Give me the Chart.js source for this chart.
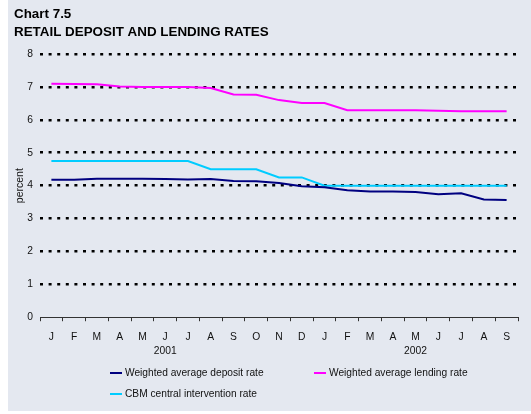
<!DOCTYPE html>
<html lang="en">
<head>
    <meta charset="UTF-8">
    <title>Chart 7.5 Retail deposit and lending rates</title>
    <script src="https://cdn.jsdelivr.net/npm/chart.js"></script>
    <style>
        body {
            margin: 0;
            background: #ffffff;
        }
        .wrap {
            position: relative;
            width: 531px;
            height: 414px;
        }
        .panel {
            position: absolute;
            left: 8px;
            top: 0;
            width: 523px;
            height: 411px;
            background: #e4e8f0;
        }
        canvas {
            position: absolute;
            left: 0;
            top: 0;
        }
    </style>
</head>
<body>

<div class="wrap">
    <div class="panel"></div>
    <canvas id="ratesChart" width="531" height="414"></canvas>
</div>

<script>
    // Months Jan 2001 - Sep 2002
    const months = ['J', 'F', 'M', 'A', 'M', 'J', 'J', 'A', 'S', 'O', 'N', 'D',
                    'J', 'F', 'M', 'A', 'M', 'J', 'J', 'A', 'S'];
    const years = { 5: '2001', 16: '2002' };

    const depositRate = [4.18, 4.18, 4.21, 4.21, 4.21, 4.20, 4.19, 4.20, 4.14, 4.13, 4.08,
                         3.98, 3.95, 3.86, 3.82, 3.82, 3.81, 3.74, 3.77, 3.58, 3.56];
    const lendingRate = [7.10, 7.09, 7.08, 7.01, 7.00, 7.00, 7.00, 6.97, 6.77, 6.76, 6.60,
                         6.51, 6.51, 6.29, 6.29, 6.29, 6.29, 6.28, 6.26, 6.26, 6.26];
    const cbmRate = [4.75, 4.75, 4.75, 4.75, 4.75, 4.75, 4.75, 4.50, 4.50, 4.50, 4.25,
                     4.25, 4.00, 4.00, 4.00, 4.00, 4.00, 4.00, 4.00, 4.00, 4.00];

    const fontFamily = "'Liberation Sans', Arial, sans-serif";

    // month letter with the year underneath where needed
    const labels = months.map((m, i) => years[i] ? [m, years[i]] : m);

    // legend laid out like the original (two columns, second row under the first)
    const legendSpots = [[110, 373], [314, 373], [110, 394]];
    const gridLegend = {
        id: 'gridLegend',
        afterDraw(chart) {
            const ctx = chart.ctx;
            ctx.save();
            ctx.font = '10.2px ' + fontFamily;
            ctx.textBaseline = 'middle';
            ctx.fillStyle = '#111';
            chart.data.datasets.forEach((ds, i) => {
                const [x, y] = legendSpots[i];
                ctx.strokeStyle = ds.borderColor;
                ctx.lineWidth = 2;
                ctx.beginPath();
                ctx.moveTo(x, y);
                ctx.lineTo(x + 12, y);
                ctx.stroke();
                ctx.fillText(ds.label, x + 15, y);
            });
            ctx.restore();
        }
    };

    const ctx = document.getElementById('ratesChart').getContext('2d');
    new Chart(ctx, {
        type: 'line',
        data: {
            labels: labels,
            datasets: [
                {
                    label: 'Weighted average deposit rate',
                    data: depositRate,
                    borderColor: '#000080',
                    borderWidth: 2,
                    pointRadius: 0
                },
                {
                    label: 'Weighted average lending rate',
                    data: lendingRate,
                    borderColor: '#ff00ff',
                    borderWidth: 2,
                    pointRadius: 0
                },
                {
                    label: 'CBM central intervention rate',
                    data: cbmRate,
                    borderColor: '#00ccff',
                    borderWidth: 2,
                    pointRadius: 0
                }
            ]
        },
        options: {
            responsive: false,
            animation: false,
            layout: {
                padding: { left: 14, right: 13, top: 0, bottom: 47 }
            },
            plugins: {
                legend: { display: false },
                tooltip: { enabled: false },
                title: {
                    display: true,
                    text: ['Chart 7.5', 'RETAIL DEPOSIT AND LENDING RATES'],
                    align: 'start',
                    color: '#000',
                    font: { family: fontFamily, size: 13.4, weight: 'bold', lineHeight: 1.36 },
                    padding: { top: 5, bottom: 12.6 }
                }
            },
            scales: {
                x: {
                    offset: true,
                    grid: {
                        offset: true,
                        drawOnChartArea: false,
                        drawTicks: true,
                        tickLength: 4,
                        color: '#333'
                    },
                    border: { display: true, color: '#333', width: 1 },
                    ticks: {
                        color: '#111',
                        padding: 9.5,
                        autoSkip: false,
                        maxRotation: 0,
                        font: { family: fontFamily, size: 10.3, lineHeight: 1.3 }
                    }
                },
                y: {
                    min: 0,
                    max: 8,
                    afterFit(scale) { scale.width = 26; },
                    grid: {
                        drawTicks: false,
                        lineWidth: 2.5,
                        color: c => c.tick.value === 0 ? 'rgba(0,0,0,0)' : '#000'
                    },
                    border: { display: false, dash: [3, 5.6] },
                    ticks: {
                        stepSize: 1,
                        color: '#111',
                        padding: 7,
                        font: { family: fontFamily, size: 10.3 }
                    },
                    title: {
                        display: true,
                        text: 'percent',
                        color: '#111',
                        padding: 0,
                        font: { family: fontFamily, size: 10.5 }
                    }
                }
            }
        },
        plugins: [gridLegend]
    });
</script>

</body>
</html>
